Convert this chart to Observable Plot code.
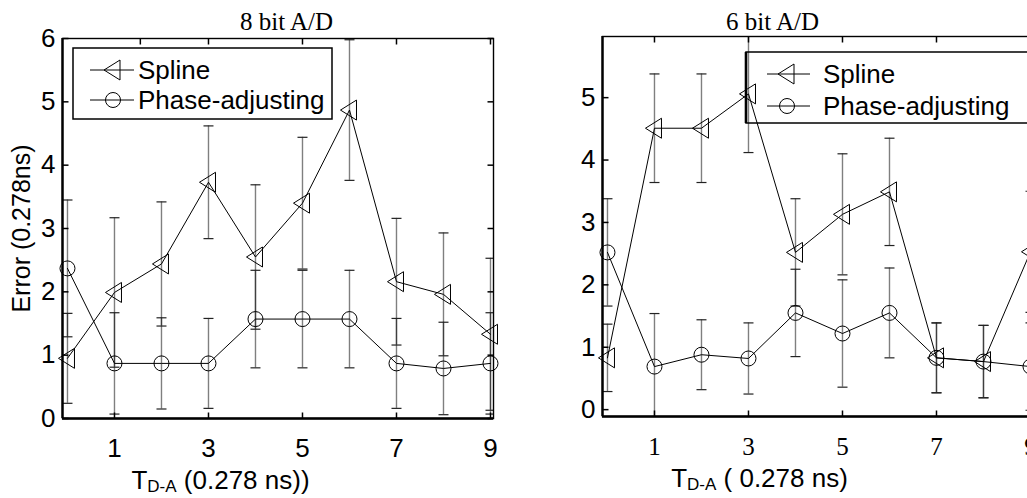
<!DOCTYPE html>
<html><head><meta charset="utf-8">
<script src="https://cdn.jsdelivr.net/npm/d3@7"></script>
<script src="https://cdn.jsdelivr.net/npm/@observablehq/plot@0.6"></script>
<style>
html,body{margin:0;padding:0;background:#fff;overflow:hidden;}
#wrap{position:relative;width:1027px;height:498px;overflow:hidden;background:#fff;}
#wrap svg{position:absolute;top:0;}
</style></head><body><div id="wrap"></div>
<script>
// ---- data ----
const tValues = [0, 1, 2, 3, 4, 5, 6, 7, 8, 9];
const xTickValues = [1, 3, 5, 7, 9];
const leftTopTicks = [1.55, 3, 5, 7, 9];
const leftYTicks = [0, 1, 2, 3, 4, 5, 6];
const rightYTicks = [0, 1, 2, 3, 4, 5];
const seriesNames = ["Spline", "Phase-adjusting"];
const leftTitle = "8 bit A/D";
const rightTitle = "6 bit A/D";
const yLabel = "Error (0.278ns)";
const leftXLabel = ["T", "D-A", " (0.278 ns))"];
const rightXLabel = ["T", "D-A", " ( 0.278 ns)"];

const leftSpline    = [0.95, 1.99, 2.44, 3.73, 2.55, 3.40, 4.87, 2.16, 1.96, 1.33];
const leftSplineErr = [0.71, 1.18, 0.98, 0.89, 1.14, 1.04, 1.11, 1.00, 0.97, 1.20];
const leftPhase     = [2.37, 0.87, 0.87, 0.87, 1.57, 1.57, 1.57, 0.87, 0.79, 0.87];
const leftPhaseErr  = [1.08, 0.80, 0.72, 0.71, 0.77, 0.77, 0.77, 0.71, 0.73, 0.80];

const rightSpline    = [0.83, 4.51, 4.51, 5.06, 2.52, 3.13, 3.49, 0.83, 0.77, 2.53];
const rightSplineErr = [0.54, 0.87, 0.87, 0.94, 0.86, 0.97, 0.86, 0.56, 0.58, 0.97];
const rightPhase     = [2.52, 0.69, 0.88, 0.82, 1.55, 1.22, 1.55, 0.83, 0.77, 0.69];
const rightPhaseErr  = [0.86, 0.85, 0.56, 0.57, 0.70, 0.86, 0.72, 0.56, 0.58, 0.70];

// ---- symbols ----
const triSym = {draw(c){ c.moveTo(-9,0); c.lineTo(7,-10); c.lineTo(7,10); c.closePath(); }};
const capSym = {draw(c){ c.moveTo(-5,0); c.lineTo(5,0); }};
const tickLeft = {draw(c){ c.moveTo(0,0); c.lineTo(6,0); }};
const tickRight = {draw(c){ c.moveTo(0,0); c.lineTo(-6,0); }};
const tickBottom = {draw(c){ c.moveTo(0,0); c.lineTo(0,-6); }};
const tickTop = {draw(c){ c.moveTo(0,0); c.lineTo(0,6); }};

const SANS = "'Liberation Sans', Arial, Helvetica, sans-serif";
const SERIF = "'Liberation Serif', 'Times New Roman', serif";
const xDomain = [-0.106, 9.064];
const intFmt = d3.format("d");

function makePanel(cfg) {
  const spl = tValues.map((x, i) => ({x, v: cfg.spline[i], e: cfg.splineErr[i]}));
  const ph = tValues.map((x, i) => ({x, v: cfg.phase[i], e: cfg.phaseErr[i]}));
  const both = spl.concat(ph);
  const xlabFull = cfg.xLabel.join("");
  const marks = [
    Plot.ruleX(both, {x: "x", y1: d => d.v - d.e, y2: d => d.v + d.e, stroke: "black", strokeOpacity: 0.5, strokeWidth: 1.4, clip: true}),
    Plot.dot(both, {x: "x", y: d => d.v + d.e, symbol: capSym, stroke: "#222", strokeWidth: 1.2, fill: "none", clip: true}),
    Plot.dot(both, {x: "x", y: d => d.v - d.e, symbol: capSym, stroke: "#222", strokeWidth: 1.2, fill: "none", clip: true}),
    Plot.line(spl, {x: "x", y: "v", stroke: "black", strokeWidth: 1}),
    Plot.line(ph, {x: "x", y: "v", stroke: "black", strokeWidth: 1}),
    Plot.dot(spl, {x: "x", y: "v", symbol: triSym, stroke: "black", fill: "none", strokeWidth: 1}),
    Plot.dot(ph, {x: "x", y: "v", r: 7.5, stroke: "black", fill: "none", strokeWidth: 1}),
    Plot.frame({stroke: "black", strokeWidth: 1.4}),
    Plot.ruleX([xDomain[0]], {stroke: "black", strokeWidth: 2.4}),
    Plot.ruleY([cfg.yDomain[0]], {stroke: "black", strokeWidth: 2.4}),
    Plot.dot(cfg.yTicks, {y: d => d, frameAnchor: "left", symbol: tickLeft, stroke: "black", fill: "none"}),
    Plot.dot(cfg.yTicks, {y: d => d, frameAnchor: "right", symbol: tickRight, stroke: "black", fill: "none"}),
    Plot.dot(xTickValues, {x: d => d, frameAnchor: "bottom", symbol: tickBottom, stroke: "black", fill: "none"}),
    Plot.dot(cfg.topTicks, {x: d => d, frameAnchor: "top", symbol: tickTop, stroke: "black", fill: "none"}),
    Plot.axisY({ticks: cfg.yTicks, tickFormat: intFmt, tickSize: 0, tickPadding: 7, fontSize: 26, label: null, fontFamily: SANS}),
    Plot.axisX({ticks: xTickValues, tickFormat: intFmt, tickSize: 0, tickPadding: cfg.xPad, fontSize: cfg.xFontSize, label: null, fontFamily: cfg.xFont}),
    Plot.text([cfg.title], {text: d => d, frameAnchor: "top", textAnchor: "middle", dx: cfg.titleDx, dy: cfg.titleDy, fontSize: 25, fontFamily: SERIF, lineAnchor: "middle"}),
    Plot.text([xlabFull], {text: d => d, frameAnchor: "bottom", textAnchor: "middle", dx: cfg.xlabDx, dy: cfg.xlabDy, fontSize: 26, fontFamily: SANS, lineAnchor: "middle"})
  ];
  if (cfg.yLabel) {
    marks.push(Plot.text([cfg.yLabel], {text: d => d, frameAnchor: "left", textAnchor: "middle", dx: cfg.ylabDx, rotate: -90, fontSize: 25, fontFamily: SANS, lineAnchor: "middle"}));
  }
  const svg = Plot.plot({
    width: cfg.width, height: 498,
    marginLeft: cfg.marginLeft, marginRight: cfg.marginRight,
    marginTop: cfg.marginTop, marginBottom: cfg.marginBottom,
    x: {domain: xDomain},
    y: {domain: cfg.yDomain},
    style: {fontFamily: SANS, background: "transparent", color: "black"},
    marks
  });
  // subscript in x label
  d3.select(svg).selectAll("text").filter(function(){ return this.textContent === xlabFull; }).each(function(){
    const t = d3.select(this);
    t.text(null);
    t.append("tspan").text(cfg.xLabel[0]);
    t.append("tspan").attr("font-size", 17).attr("dy", 3).text(cfg.xLabel[1]);
    t.append("tspan").attr("dy", -3).text(cfg.xLabel[2]);
  });
  svg.style.left = cfg.left + "px";
  return svg;
}

const wrap = document.getElementById("wrap");
wrap.appendChild(makePanel({
  left: 0, width: 513, marginLeft: 62, marginRight: 20, marginTop: 38, marginBottom: 80,
  yDomain: [0, 6], yTicks: leftYTicks, topTicks: leftTopTicks,
  spline: leftSpline, splineErr: leftSplineErr, phase: leftPhase, phaseErr: leftPhaseErr,
  title: leftTitle, titleDx: 8.5, titleDy: -17,
  xLabel: leftXLabel, xlabDx: -57.5, xlabDy: 62,
  xFont: SANS, xFontSize: 26, xPad: 20,
  yLabel: yLabel, ylabDx: -41
}));
wrap.appendChild(makePanel({
  left: 513, width: 540, marginLeft: 89, marginRight: 20, marginTop: 36, marginBottom: 82,
  yDomain: [-0.11, 5.98], yTicks: rightYTicks, topTicks: xTickValues,
  spline: rightSpline, splineErr: rightSplineErr, phase: rightPhase, phaseErr: rightPhaseErr,
  title: rightTitle, titleDx: -45.5, titleDy: -15,
  xLabel: rightXLabel, xlabDx: -58.5, xlabDy: 62,
  xFont: SERIF, xFontSize: 25, xPad: 21,
  yLabel: null
}));

// ---- legends ----
const leg = d3.select(wrap).append("svg").attr("width", 1027).attr("height", 498).style("left", "0px");
function drawLegend(box, rows, thickLeft) {
  const g = leg.append("g");
  g.append("rect").attr("x", box.x).attr("y", box.y).attr("width", box.w).attr("height", box.h)
    .attr("fill", "none").attr("stroke", "black").attr("stroke-width", 1.5);
  if (thickLeft) g.append("line").attr("x1", box.x).attr("x2", box.x).attr("y1", box.y).attr("y2", box.y + box.h)
    .attr("stroke", "black").attr("stroke-width", 2.6);
  rows.forEach((r, i) => {
    g.append("line").attr("x1", box.lx1).attr("x2", box.lx2).attr("y1", r.y).attr("y2", r.y).attr("stroke", "black");
    if (i === 0) {
      g.append("path").attr("d", d3.symbol(triSym)()).attr("transform", `translate(${box.mx},${r.y})`)
        .attr("fill", "none").attr("stroke", "black");
    } else {
      g.append("circle").attr("cx", box.mx).attr("cy", r.y).attr("r", 7.5).attr("fill", "none").attr("stroke", "black");
    }
    g.append("text").attr("x", box.tx).attr("y", r.y + 9.3).attr("font-family", SANS).attr("font-size", 26).text(seriesNames[i]);
  });
}
drawLegend({x: 73, y: 48, w: 259, h: 71, lx1: 90, lx2: 134, mx: 113, tx: 138}, [{y: 70}, {y: 100}], false);
drawLegend({x: 746, y: 52, w: 320, h: 71, lx1: 767, lx2: 810, mx: 787, tx: 823}, [{y: 74}, {y: 106}], true);
</script></body></html>
